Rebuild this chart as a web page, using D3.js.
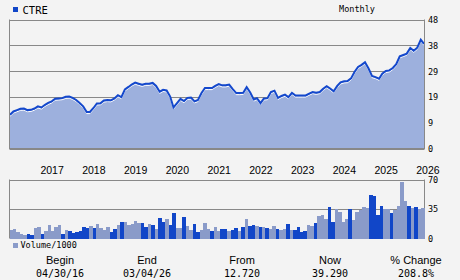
<!DOCTYPE html>
<html>
<head>
<meta charset="utf-8">
<script src="https://cdn.jsdelivr.net/npm/d3@7"></script>
<style>
	body { margin: 0; background: #f3f3f3; }
	svg { display: block; }
</style>
</head>
<body>
<script>
// monthly closes, 04/2016 .. 03/2026
var startMonth = new Date(2016, 3, 1);
var endMonth = new Date(2026, 2, 1);
var price = [12.7,13.9,14.4,14.9,15.0,14.4,14.5,15.0,15.8,15.4,
	16.4,17.1,17.7,18.7,18.8,18.9,19.4,19.5,19.0,18.2,
	17.1,15.8,13.7,13.7,15.2,16.9,17.0,18.0,18.2,18.1,
	18.8,20.0,19.3,22.2,23.1,24.0,24.7,24.3,23.9,24.3,
	24.3,24.6,23.5,21.3,22.0,21.8,19.5,15.4,17.0,18.6,
	17.8,19.0,19.1,17.7,18.2,20.8,22.7,22.7,22.7,23.5,
	24.2,23.7,23.7,24.0,22.3,20.8,20.8,20.9,23.0,21.0,
	18.4,18.9,17.0,18.8,18.9,21.2,21.7,19.0,19.7,20.2,
	19.3,20.9,19.9,19.9,19.9,19.9,20.6,21.2,20.9,21.2,
	22.4,23.4,22.5,21.5,23.5,24.8,25.2,25.3,26.3,28.7,
	30.6,31.4,32.4,30.0,27.2,26.8,26.2,28.1,29.1,29.3,
	30.2,31.6,34.6,35.1,35.6,37.7,36.7,37.8,40.8,39.29];

// volume in thousands
var volume = [10.5,11.8,7.9,5.5,4.7,5.5,4.7,12.6,13.8,5.5,
	9.0,16.1,9.0,13.8,16.1,5.5,10.2,9.0,7.1,8.3,
	9.0,13.8,12.6,14.9,12.6,17.3,12.6,10.2,13.8,7.9,
	11.4,16.1,19.7,19.7,16.5,17.3,20.8,18.9,18.5,13.8,
	17.3,16.1,11.4,24.4,19.7,23.2,16.1,30.3,12.6,12.6,
	25.6,14.9,10.2,17.3,7.9,10.2,18.5,11.4,9.0,13.8,
	9.0,11.4,11.4,9.0,10.2,12.6,9.0,13.8,23.2,14.9,
	16.1,14.9,13.8,13.8,12.6,11.4,14.9,11.4,10.2,11.4,
	17.3,10.2,10.2,13.8,7.9,9.0,16.1,14.9,18.5,26.7,
	27.9,23.2,37.3,19.7,35.0,31.4,19.7,23.2,35.0,22.0,
	31.4,33.8,37.3,36.0,51.5,50.3,27.9,38.5,35.0,35.0,
	30.3,33.8,38.5,66.8,44.4,38.5,36.2,37.3,35.0,36.2];

// 1 = dark bar, 0 = light bar
var volDark = [0,0,0,0,0,1,1,0,0,1, 0,0,0,0,0,1,0,1,1,1,
	1,1,1,0,1,0,0,0,0,1, 1,0,1,0,0,0,0,0,1,1,
	0,1,0,1,1,0,1,1,0,0, 1,0,0,1,1,0,0,0,1,0,
	0,1,1,0,1,1,0,1,0,1, 1,0,1,0,1,0,0,1,0,0,
	1,0,1,1,1,1,0,0,1,0, 0,0,1,1,0,0,0,0,1,0,
	0,0,0,0,1,1,1,1,0,0, 1,0,0,0,0,1,0,1,0,0];

var years = [2017,2018,2019,2020,2021,2022,2023,2024,2025,2026];
var priceTicks = [0, 9.68, 19.36, 29.04, 38.72, 48.4];
var volTicks = [0, 35, 70];

var footHeads = ["Begin", "End", "From", "Now", "% Change"];
var footVals = ["04/30/16", "03/04/26", "12.720", "39.290", "208.8%"];

var width = 460;
var height = 280;
var left = 10, right = 424;
var mono = "'DejaVu Sans Mono', monospace";
var sans = "'Liberation Sans', Arial, sans-serif";

var months = d3.timeMonth.range(startMonth, d3.timeMonth.offset(endMonth, 1));
var rows = months.map(function(m, i) { return {date: m, close: price[i], vol: volume[i], dark: volDark[i]}; });

var svg = d3.select("body").append("svg")
	.attr("width", width)
	.attr("height", height);

var x = d3.scaleTime().domain([startMonth, endMonth]).range([left, right]);
var y = d3.scaleLinear().domain([0, 48.4]).range([148.5, 19.5]);
var xb = d3.scaleBand().domain(d3.range(rows.length)).range([left - 0.5, right + 0.5]);
var yv = d3.scaleLinear().domain([0, 70]).range([238.5, 179.5]);

// price grid
svg.append("g").selectAll("line").data(priceTicks).enter().append("line")
	.attr("x1", left - 0.5).attr("x2", right + 0.5)
	.attr("y1", function(d) { return Math.round(y(d)) + 0.5; })
	.attr("y2", function(d) { return Math.round(y(d)) + 0.5; })
	.attr("stroke", "#888").attr("stroke-width", 1);

var area = d3.area()
	.x(function(d) { return x(d.date); })
	.y0(y(0))
	.y1(function(d) { return y(d.close); });
var line = d3.line()
	.x(function(d) { return x(d.date); })
	.y(function(d) { return y(d.close); });

svg.append("path").datum(rows).attr("d", area).attr("fill", "#9db0dd");
svg.append("path").datum(rows).attr("d", line)
	.attr("transform", "translate(0,1.6)")
	.attr("fill", "none").attr("stroke", "#fff").attr("stroke-width", 1);
svg.append("path").datum(rows).attr("d", line)
	.attr("fill", "none").attr("stroke", "#1448cc").attr("stroke-width", 2);

// frame sides
svg.append("line").attr("x1", left - 0.5).attr("x2", left - 0.5).attr("y1", 19.5).attr("y2", 149)
	.attr("stroke", "#888");
svg.append("line").attr("x1", right + 0.5).attr("x2", right + 0.5).attr("y1", 19.5).attr("y2", 149)
	.attr("stroke", "#888");
svg.append("line").attr("x1", left - 0.5).attr("x2", right + 0.5).attr("y1", 148.5).attr("y2", 148.5)
	.attr("stroke", "#888");

svg.append("g").selectAll("text").data(priceTicks).enter().append("text")
	.attr("x", 428).attr("y", function(d) { return y(d); })
	.attr("dy", "0.42em")
	.attr("font-family", mono).attr("font-size", 8.5).attr("fill", "#000")
	.text(function(d) { return Math.floor(d); });

svg.append("g").selectAll("text").data(years).enter().append("text")
	.attr("x", function(d) { return x(new Date(d, 0, 1)) - 1; })
	.attr("y", 174)
	.attr("font-family", sans).attr("font-size", 10.5).attr("fill", "#000")
	.text(function(d) { return d; });

// volume panel
svg.append("g").selectAll("line").data([35, 70]).enter().append("line")
	.attr("x1", left - 0.5).attr("x2", right + 0.5)
	.attr("y1", function(d) { return Math.round(yv(d)) + 0.5; })
	.attr("y2", function(d) { return Math.round(yv(d)) + 0.5; })
	.attr("stroke", "#888");
svg.append("line").attr("x1", left - 0.5).attr("x2", left - 0.5).attr("y1", 179.5).attr("y2", 238.5)
	.attr("stroke", "#888");
svg.append("line").attr("x1", right + 0.5).attr("x2", right + 0.5).attr("y1", 179.5).attr("y2", 238.5)
	.attr("stroke", "#888");

svg.append("g").selectAll("rect").data(rows).enter().append("rect")
	.attr("x", function(d, i) { return xb(i); })
	.attr("width", xb.bandwidth())
	.attr("y", function(d) { return yv(d.vol); })
	.attr("height", function(d) { return yv(0) - yv(d.vol); })
	.attr("fill", function(d) { return d.dark ? "#1146c8" : "#8a9bc9"; })
	.attr("shape-rendering", "crispEdges");

svg.append("g").selectAll("text").data(volTicks).enter().append("text")
	.attr("x", 428).attr("y", function(d) { return yv(d); })
	.attr("dy", "0.4em")
	.attr("font-family", mono).attr("font-size", 8.5).attr("fill", "#000")
	.text(function(d) { return d; });

// legends
svg.append("rect").attr("x", 13).attr("y", 7).attr("width", 5).attr("height", 5).attr("fill", "#1146c8");
svg.append("text").attr("x", 22.5).attr("y", 13.5)
	.attr("font-family", mono).attr("font-size", 10.5).text("CTRE");
svg.append("text").attr("x", 357).attr("y", 12).attr("text-anchor", "middle")
	.attr("font-family", mono).attr("font-size", 8.5).text("Monthly");
svg.append("rect").attr("x", 13).attr("y", 243).attr("width", 5).attr("height", 5).attr("fill", "#8a9bc9");
svg.append("text").attr("x", 20.5).attr("y", 247.5)
	.attr("font-family", mono).attr("font-size", 8.5).text("Volume/1000");

// footer
var footX = [60, 147, 242, 330, 416];
svg.append("g").selectAll("text").data(footHeads).enter().append("text")
	.attr("x", function(d, i) { return footX[i]; }).attr("y", 263.5)
	.attr("text-anchor", "middle")
	.attr("font-family", sans).attr("font-size", 11).text(function(d) { return d; });
svg.append("g").selectAll("text").data(footVals).enter().append("text")
	.attr("x", function(d, i) { return footX[i]; }).attr("y", 277)
	.attr("text-anchor", "middle")
	.attr("font-family", mono).attr("font-size", 10).text(function(d) { return d; });
</script>
</body>
</html>
